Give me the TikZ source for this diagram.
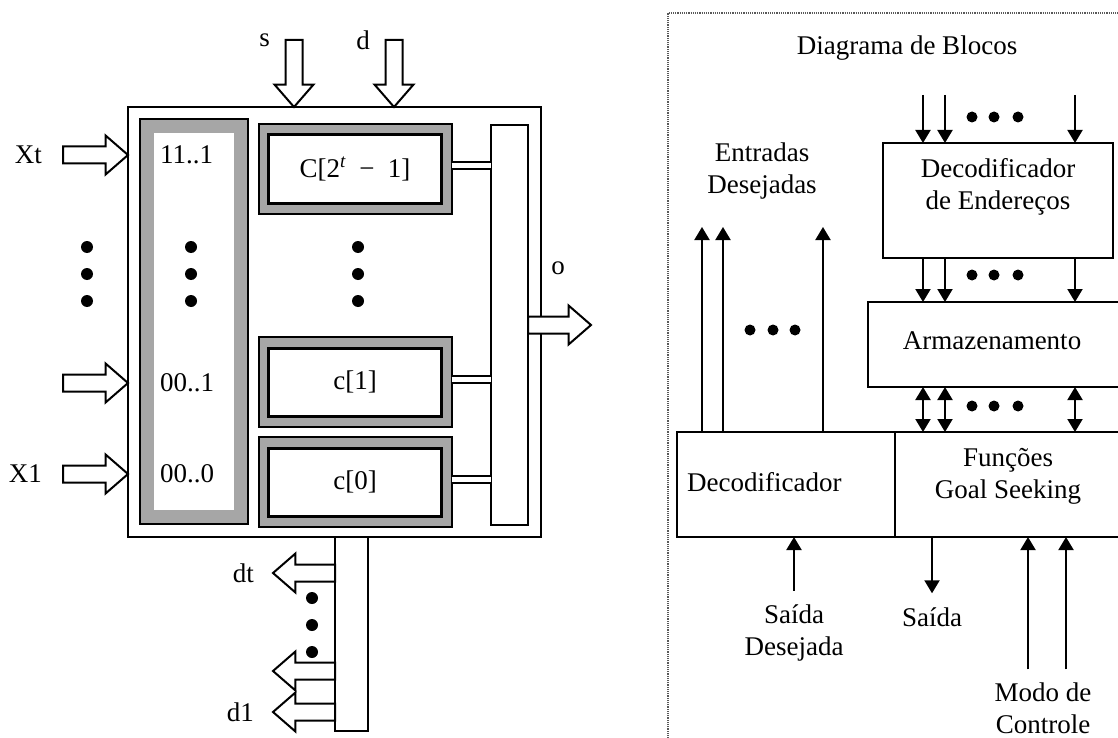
\documentclass[tikz,border=0pt]{standalone}
\usepackage{fontspec}
\setmainfont{Liberation Serif}
\usetikzlibrary{shapes.arrows,arrows.meta,calc,positioning}
\tikzset{
    box/.style = {draw, rectangle, line width=2pt, inner sep=0pt, outer sep=0pt},
    cellout/.style = {box, fill=black!35, minimum width=193, minimum height=90},
    cellin/.style = {box, fill=white, line width=3pt, minimum width=173, minimum height=68},
    blockarrow/.style = {single arrow, draw, fill=white, line width=2pt,
        inner sep=7.5pt, outer sep=0pt, single arrow head extend=11pt,
        single arrow tip angle=82, minimum height=65},
    dot/.style = {circle, fill, inner sep=0pt, minimum size=12pt}
}

\begin{document}
\begin{tikzpicture}[x=1pt, y=-1pt,
    font=\fontsize{27}{32}\selectfont,
    txt/.style={inner sep=0pt, align=center},
    blk/.style={box, anchor=north west},
    line/.style={-{Triangle[length=13pt,width=15pt]}, line width=2pt},
    dline/.style={{Triangle[length=13pt,width=15pt]}-{Triangle[length=13pt,width=15pt]}, line width=2pt},
    pair/.style={double, double distance=5pt, line width=2pt}
]
\useasboundingbox (0,0) rectangle (1118,738);
\clip (0,0) rectangle (1118,738);

% left: memory block
\node[box, minimum width=413, minimum height=430, anchor=north west] (cam) at (128,107) {};
\node[cellout, minimum width=108, minimum height=405] (colout) at (194,321.5) {};
\node[box, draw=none, fill=white, minimum width=80, minimum height=377] (col) at (colout) {};
\node[txt, anchor=west] (a1) at (160,155) {11..1};
\node[txt, anchor=west] (a01) at (160,383) {00..1};
\node[txt, anchor=west] (a00) at (160,474) {00..0};

\node[cellout] (ctopo) at (355,169) {};
\node[cellin] (ctop) at (ctopo) {C[2\textsuperscript{\itshape t}\enspace−\enspace1]};
\node[cellout] (c1o) at (355,382) {};
\node[cellin] (c1) at (c1o) {c[1]};
\node[cellout] (c0o) at (355,482) {};
\node[cellin] (c0) at (c0o) {c[0]};

\node[box, fill=white, minimum width=37, minimum height=400] (mux) at (509.5,325) {};
\node[box, fill=white, minimum width=33, minimum height=194] (demux) at (351.5,634) {};

\foreach \c in {ctopo,c1o,c0o}
    \draw[pair] ([yshift=3pt]\c.east) -- ([yshift=3pt]\c.east -| mux.west);

\foreach \y [count=\i] in {247,274,301} {
    \node[dot] (ldot\i) at (87,\y) {};
    \node[dot] (adot\i) at (191,\y) {};
    \node[dot] (cdot\i) at (358,\y) {};
}
\foreach \y [count=\i] in {598,625,652}
    \node[dot] (ddot\i) at (312,\y) {};

% block arrows
\node[blockarrow, anchor=tip] (xt) at (cam.west |- a1.west) {};
\node[txt, left=21pt of xt.tail] (xtl) {Xt};
\node[blockarrow, anchor=tip] (x01) at (cam.west |- a01.west) {};
\node[blockarrow, anchor=tip] (x1) at (cam.west |- a00.west) {};
\node[txt, left=21pt of x1.tail] (x1l) {X1};

\node[blockarrow, rotate=-90, anchor=tip, minimum height=67] (sin) at (294,107) {};
\node[blockarrow, rotate=-90, anchor=tip, minimum height=67] (din) at (394,107) {};
\node[txt, left=24pt of sin.tail] (sl) {s};
\node[txt, left=24pt of din.tail] (dl) {d};

\node[blockarrow, anchor=tail, minimum height=63] (oout) at (mux.east) {};
\node[txt] (ol) at (558,268) {o};

\node[blockarrow, rotate=180, anchor=tail, minimum height=62] (dtout) at ($(demux.north west)+(0,36)$) {};
\node[blockarrow, rotate=180, anchor=tail, minimum height=62] (dkout) at ($(demux.north west)+(0,134)$) {};
\node[blockarrow, rotate=180, anchor=tail, minimum height=62] (d1out) at ($(demux.north west)+(0,175)$) {};
\node[txt, left=19pt of dtout.tip] (dtl) {dt};
\node[txt, left=19pt of d1out.tip] (d1l) {d1};

% right: block diagram
\draw[black!65, densely dotted, line width=1.2pt] (668,745) -- (668,13) -- (1125,13);
\node[txt] (title) at (907,48) {Diagrama de Blocos};

\node[blk, minimum width=230, minimum height=115] (dend) at (883,143) {};
\node[txt] (dendt) at (998,187) {Decodificador\\de Endereços};
\node[blk, minimum width=262, minimum height=85] (arm) at (868,302) {};
\node[txt] (armt) at (992,341) {Armazenamento};
\node[blk, minimum width=218, minimum height=105] (dec) at (677,432) {};
\node[txt, anchor=west] (dect) at (687,482) {Decodificador};
\node[blk, minimum width=235, minimum height=105] (gs) at (dec.north east) {};
\node[txt] (gst) at (1008,476) {Funções\\Goal Seeking};

\node[txt] (edl) at (762,171) {Entradas\\Desejadas};
\node[txt] (sdl) at (794,633) {Saída\\Desejada};
\node[txt] (sal) at (932,617) {Saída};
\node[txt] (mcl) at (1043,708) {Modo de\\Controle};

\coordinate (ab) at (dend.south |- arm.south);
\foreach \dx in {-75,-53,77} {
    \draw[line] ([xshift=\dx, yshift=48]dend.north) -- ([xshift=\dx]dend.north);
    \draw[line] ([xshift=\dx]dend.south) -- ([xshift=\dx]dend.south |- arm.north);
    \draw[dline] ([xshift=\dx]ab) -- ([xshift=\dx]ab |- gs.north);
}
\foreach \dx [count=\i] in {-26,-4,20} {
    \node[dot, minimum size=11pt] (tdot\i) at ([xshift=\dx, yshift=26]dend.north) {};
    \node[dot, minimum size=11pt] (mdot\i) at ([xshift=\dx, yshift=-17]dend.south) {};
    \node[dot, minimum size=11pt] (bdot\i) at ([xshift=\dx, yshift=-19]ab) {};
}

\foreach \dx in {-84,-63,37}
    \draw[line] ([xshift=\dx]dec.north) -- ++(0,-205);
\foreach \dx [count=\i] in {-36,-13,9}
    \node[dot, minimum size=11pt] (edot\i) at ([xshift=\dx, yshift=102]dec.north) {};

\draw[line] ([yshift=14pt]sdl.north) -- (sdl.north |- dec.south);
\draw[line] (sal.north |- gs.south) -- ([yshift=14pt]sal.north);
\draw[line] ([xshift=-15pt, yshift=13pt]mcl.north) -- ([xshift=-15pt]mcl.north |- gs.south);
\draw[line] ([xshift=23pt, yshift=13pt]mcl.north) -- ([xshift=23pt]mcl.north |- gs.south);
\end{tikzpicture}
\end{document}
